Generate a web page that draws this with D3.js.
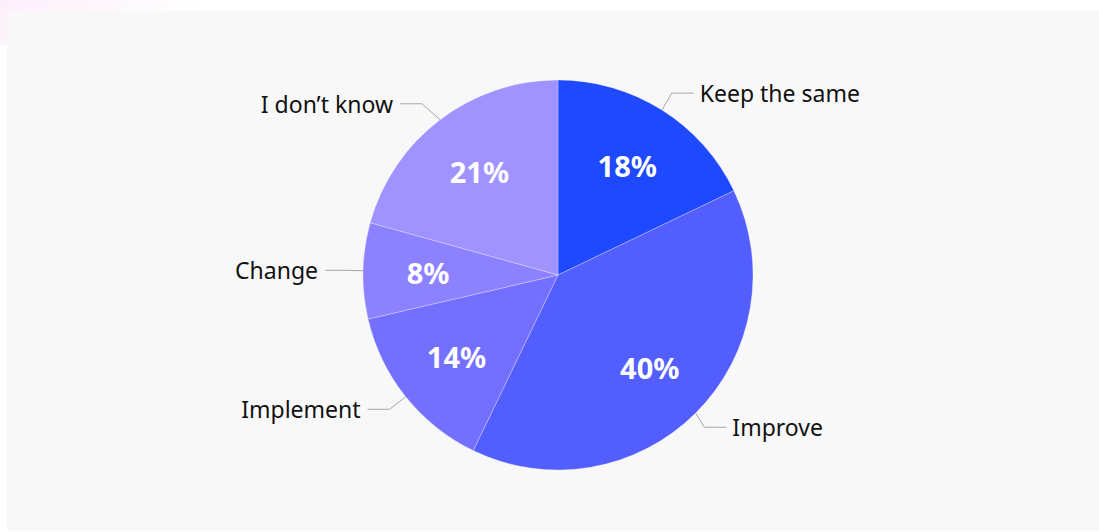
<!DOCTYPE html>
<html>
<head>
<meta charset="utf-8">
<script src="https://cdn.jsdelivr.net/npm/d3@7"></script>
<style>
  html, body { margin: 0; padding: 0; background: #ffffff; }
  svg { display: block; }
</style>
</head>
<body>
<svg id="chart" width="1099" height="532"></svg>
<script>
// ---- data ----
const categories = ["Keep the same", "Improve", "Implement", "Change", "I don\u2019t know"];
const values = [18, 39.5, 14.3, 8, 20.8];
const labels = ["18%", "40%", "14%", "8%", "21%"];
const colors = ["#1f49ff", "#535efe", "#7470ff", "#8c81ff", "#a092ff"];

const W = 1099, H = 532;
const svg = d3.select("#chart");

// background pink tint top-left
const defs = svg.append("defs");
const grad = defs.append("linearGradient").attr("id", "pink")
  .attr("x1", "0").attr("y1", "0").attr("x2", "1").attr("y2", "0.3");
grad.append("stop").attr("offset", "0").attr("stop-color", "#fdeffb");
grad.append("stop").attr("offset", "1").attr("stop-color", "#ffffff");
svg.append("rect").attr("x", 0).attr("y", 0).attr("width", 200).attr("height", 45).attr("fill", "url(#pink)");

// panel
svg.append("rect").attr("x", 7).attr("y", 11).attr("width", W - 7).attr("height", 520).attr("fill", "#f8f8f8");

const cx = 558, cy = 275, R = 195;
const pie = d3.pie().sort(null).value(d => d.v);
const data = categories.map((c, i) => ({ c, v: values[i], lab: labels[i], col: colors[i] }));
const arcs = pie(data);
const arc = d3.arc().innerRadius(0).outerRadius(R);
const labelArc = d3.arc().innerRadius(130).outerRadius(130);

const g = svg.append("g").attr("transform", `translate(${cx},${cy})`);

g.selectAll("path.slice").data(arcs).join("path")
  .attr("class", "slice")
  .attr("d", arc)
  .attr("fill", d => d.data.col)
  .attr("stroke", "rgba(255,255,255,0.35)")
  .attr("stroke-width", 0.8);

// percent labels
g.selectAll("text.pct").data(arcs).join("text")
  .attr("class", "pct")
  .attr("transform", d => `translate(${labelArc.centroid(d)})`)
  .attr("text-anchor", "middle")
  .attr("dominant-baseline", "central")
  .attr("font-family", "'Noto Sans', sans-serif")
  .attr("font-weight", 700)
  .attr("font-size", 29)
  .attr("fill", "#ffffff")
  .text(d => d.data.lab);

// outer labels with connectors
arcs.forEach(d => {
  const a = (d.startAngle + d.endAngle) / 2;
  const right = Math.sin(a) >= 0;
  const LR = right ? 227 : 233;
  const px = R * Math.sin(a), py = -R * Math.cos(a);
  let ly = -(R + 20) * Math.cos(a);
  const lx = (right ? 1 : -1) * Math.sqrt(Math.max(0, LR * LR - ly * ly));
  const ex = lx - (right ? 1 : -1) * 22;
  const pts = [[px, py], [ex, ly], [lx, ly]];
  g.append("path")
    .attr("d", d3.line()(pts))
    .attr("fill", "none")
    .attr("stroke", "#a6a6a6")
    .attr("stroke-width", 1);
  g.append("text")
    .attr("x", lx + (right ? 6 : -7))
    .attr("y", ly)
    .attr("text-anchor", right ? "start" : "end")
    .attr("dominant-baseline", "central")
    .attr("font-family", "'Noto Sans', sans-serif")
    .attr("font-size", 23)
    .attr("fill", "#111111")
    .text(d.data.c);
});
</script>
</body>
</html>
